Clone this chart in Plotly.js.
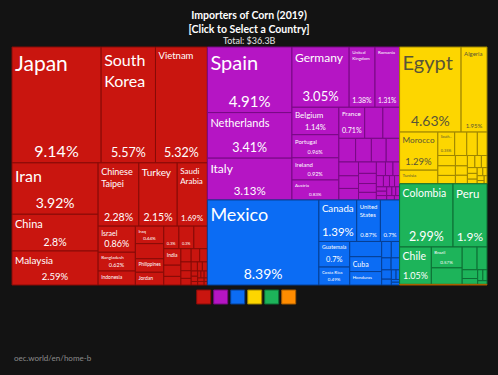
<!DOCTYPE html>
<html>
<head>
<meta charset="utf-8">
<script src="https://cdn.plot.ly/plotly-3.0.1.min.js"></script>
<style>
html,body{margin:0;padding:0;background:#131313;}
#chart{width:498px;height:375px;}
</style>
</head>
<body>
<div id="chart"></div>
<script>
// ---------- DATA (share of world corn imports 2019, %) ----------
const continents = ['Asia', 'Europe', 'North America', 'Africa', 'South America', 'Oceania'];

const asiaNames = ['Japan','South Korea','Vietnam','Iran','China','Malaysia','Chinese Taipei','Turkey','Saudi Arabia','Israel','Bangladesh','Indonesia','Iraq','Kuwait','Philippines','Jordan','Syria','Lebanon','United Arab Emirates','India','Qatar','Sri Lanka','Oman','Thailand','Pakistan','Georgia','Azerbaijan','Yemen','Armenia','Singapore','Nepal','Kazakhstan','Hong Kong','Cambodia','Bahrain','Kyrgyzstan','Uzbekistan','Tajikistan','Myanmar','Brunei','Maldives'];
const asiaValues = [9.14,5.57,5.32,3.92,2.80,2.59,2.28,2.15,1.69,0.86,0.62,0.46,0.44,0.38,0.34,0.32,0.302,0.298,0.27,0.25,0.17,0.13,0.12,0.10,0.09,0.08,0.07,0.06,0.05,0.04,0.04,0.03,0.03,0.02,0.02,0.02,0.02,0.02,0.02,0.01,0.01];

const europeNames = ['Spain','Netherlands','Italy','Germany','United Kingdom','Romania','Belgium','Portugal','Ireland','Austria','France','Denmark','Greece','Slovenia','Poland','Croatia','Czechia','Hungary','Switzerland','Cyprus','Sweden','Slovakia','Bosnia and Herzegovina','Norway','Albania','Lithuania','Serbia','Malta','Latvia','Bulgaria','Estonia','Luxembourg','North Macedonia','Finland','Belarus','Montenegro','Moldova','Iceland','Ukraine'];
const europeValues = [4.91,3.41,3.13,3.05,1.38,1.31,1.14,0.96,0.92,0.83,0.71,0.50,0.46,0.35,0.33,0.31,0.28,0.24,0.22,0.20,0.18,0.16,0.14,0.12,0.11,0.09,0.08,0.07,0.06,0.05,0.05,0.04,0.04,0.04,0.04,0.03,0.03,0.03,0.02];

const northAmericaNames = ['Mexico','Canada','United States','Dominican Republic','Guatemala','Costa Rica','El Salvador','Cuba','Honduras','Panama','Jamaica','Trinidad and Tobago','Nicaragua','Haiti','Belize','Barbados','Bahamas','Saint Lucia','Antigua and Barbuda'];
const northAmericaValues = [8.39,1.39,0.87,0.704,0.698,0.49,0.43,0.42,0.38,0.14,0.12,0.10,0.09,0.08,0.05,0.04,0.03,0.02,0.02];

const africaNames = ['Egypt','Algeria','Morocco','Tunisia','South Africa','Libya','Kenya','Zimbabwe','Mauritania','Senegal','Botswana','Namibia','Mozambique','Eswatini','Lesotho','Sudan','Djibouti','Ghana','Mauritius','Nigeria','Tanzania','Cape Verde','Uganda','Angola','Gambia'];
const africaValues = [4.63,1.95,1.29,0.46,0.35,0.25,0.22,0.20,0.16,0.15,0.13,0.11,0.10,0.09,0.08,0.07,0.06,0.05,0.05,0.04,0.04,0.03,0.03,0.02,0.02];

const southAmericaNames = ['Colombia','Peru','Chile','Brazil','Ecuador','Venezuela','Uruguay','Bolivia','Paraguay','Argentina','Guyana','Suriname'];
const southAmericaValues = [2.99,1.90,1.05,0.57,0.45,0.30,0.20,0.12,0.08,0.05,0.04,0.03];

const oceaniaNames = ['New Zealand','Australia','Fiji'];
const oceaniaValues = [0.03,0.01,0.01];

const titleLines = ['Importers of Corn (2019)', '[Click to Select a Country]'];
const totalText = 'Total: $36.3B';
const footerText = 'oec.world/en/home-b';

// ---------- STYLE ----------
const FONT = 'Lato, "Open Sans", sans-serif';
const continentColors = ['#c9150f', '#b515c4', '#0b6cf4', '#fdd600', '#1db45a', '#ff8c00'];
const continentLines  = ['#870c08', '#780a84', '#073f93', '#9c8400', '#0e6e35', '#a85c00'];
const continentText   = ['#ffffff', '#ffffff', '#ffffff', '#585437', '#ffffff', '#ffffff'];

const displayNames = {
  'South Korea': 'South<br>Korea', 'Chinese Taipei': 'Chinese<br>Taipei',
  'Saudi Arabia': 'Saudi<br>Arabia', 'United States': 'United<br>States',
  'United Kingdom': 'United<br>Kingdom', 'South Africa': 'South...'
};
// [name font size, percentage font size]; 0 = not shown
const labelSizes = {
  'Japan':[21,16], 'South Korea':[16,12.5], 'Vietnam':[9.5,12.5], 'Iran':[16,14],
  'China':[11,10.5], 'Malaysia':[10,9.5], 'Chinese Taipei':[9,10.5], 'Turkey':[10,10.5],
  'Saudi Arabia':[8,8], 'Israel':[7,9], 'Bangladesh':[4.5,5.5], 'Iraq':[4.5,4.5],
  'Syria':[0,4.5], 'Lebanon':[0,4.5], 'Indonesia':[5,0], 'Philippines':[5,0], 'India':[5,0], 'Jordan':[5,0],
  'Spain':[20,15], 'Netherlands':[11,12.5], 'Italy':[12,11.5], 'Germany':[12,13],
  'United Kingdom':[4.5,7], 'Romania':[4.5,7], 'Belgium':[8,7.5], 'France':[6.5,7.5],
  'Portugal':[6,5.5], 'Ireland':[6,5.5], 'Austria':[4.5,4.5],
  'Mexico':[18,14], 'Canada':[10.5,11.5], 'United States':[6,6], 'Dominican Republic':[0,6],
  'Guatemala':[5.5,7.5], 'Costa Rica':[4.5,4.5], 'Cuba':[7,0], 'Honduras':[4.5,0],
  'Egypt':[20,14], 'Algeria':[6,6], 'Morocco':[8.5,9.5], 'Tunisia':[4.5,0], 'South Africa':[4.5,4.5],
  'Colombia':[10.5,12.5], 'Peru':[11.5,12], 'Chile':[10.5,9], 'Brazil':[4.5,4.5]
};

// ---------- BUILD ----------
const groups = [
  [asiaNames, asiaValues], [europeNames, europeValues], [northAmericaNames, northAmericaValues],
  [africaNames, africaValues], [southAmericaNames, southAmericaValues], [oceaniaNames, oceaniaValues]
];
const fmt = v => parseFloat(v.toFixed(2)).toString() + '%';

const ids = [], labels = [], parents = [], values = [], colors = [], lines = [];
const nameTexts = [], pctTexts = [], nameSizes = [], pctSizes = [], textColors = [];

ids.push('World'); labels.push('World'); parents.push(''); values.push(0);
colors.push('#131313'); lines.push('#131313');
nameTexts.push(''); pctTexts.push(''); nameSizes.push(8); pctSizes.push(8); textColors.push('#fff');

continents.forEach((c, ci) => {
  ids.push(c); labels.push(c); parents.push('World'); values.push(0);
  colors.push(continentColors[ci]); lines.push('#151515');
  nameTexts.push(''); pctTexts.push(''); nameSizes.push(8); pctSizes.push(8); textColors.push(continentText[ci]);
  const [names, vals] = groups[ci];
  names.forEach((n, i) => {
    ids.push(n); labels.push(n); parents.push(c); values.push(vals[i]);
    colors.push(continentColors[ci]); lines.push(continentLines[ci]);
    const s = labelSizes[n] || [0, 0];
    nameTexts.push(s[0] ? (displayNames[n] || n) : '');
    pctTexts.push(s[1] ? fmt(vals[i]) : '');
    nameSizes.push(s[0] || 5); pctSizes.push(s[1] || 5);
    textColors.push(continentText[ci]);
  });
});

const W = 498, H = 375;
const domain = {x: [12 / W, 487 / W], y: [1 - 285 / H, 1 - 47 / H]};
const PHI = (1 + Math.sqrt(5)) / 2;

const base = {
  type: 'treemap', ids: ids, labels: labels, parents: parents, values: values,
  branchvalues: 'remainder', sort: true, domain: domain,
  tiling: {packing: 'squarify', squarifyratio: PHI, pad: 0},
  pathbar: {visible: false}, textinfo: 'text'
};

const cells = Object.assign({}, base, {
  marker: {colors: colors, line: {color: lines, width: 1}, pad: {t: 0, l: 0, r: 0, b: 0}, depthfade: false},
  leaf: {opacity: 1},
  text: nameTexts, textposition: 'top left',
  textfont: {family: FONT, size: nameSizes, color: textColors},
  hoverinfo: 'label+value'
});
const pcts = Object.assign({}, base, {
  marker: {colors: ids.map(() => 'rgba(0,0,0,0)'), line: {width: 0}, pad: {t: 0, l: 0, r: 0, b: 0}, depthfade: false},
  leaf: {opacity: 1},
  text: pctTexts, textposition: 'bottom center',
  textfont: {family: FONT, size: pctSizes, color: textColors},
  hoverinfo: 'skip'
});

// colour key squares under the treemap
const key = {
  type: 'scatter', mode: 'markers', x: continents.map((c, i) => i), y: continents.map(() => 0),
  text: continents, hoverinfo: 'text', showlegend: false,
  marker: {symbol: 'square', size: 14, color: continentColors, line: {color: continentLines, width: 1}}
};

const step = 17, first = 203.7;
const layout = {
  width: W, height: H, margin: {l: 0, r: 0, t: 0, b: 0},
  paper_bgcolor: '#131313', plot_bgcolor: 'rgba(0,0,0,0)', showlegend: false,
  title: {
    text: '<b>' + titleLines.join('</b><br><b>') + '</b>',
    x: 0.5, xanchor: 'center', y: 1 - 19 / H, yanchor: 'middle', yref: 'container',
    font: {family: FONT, size: 10.5, color: '#ffffff'}
  },
  xaxis: {domain: [0, 1], range: [-first / step, (W - first) / step], visible: false, fixedrange: true},
  yaxis: {domain: [0.158, 0.258], range: [-1, 1], visible: false, fixedrange: true},
  annotations: [
    {text: totalText, xref: 'paper', yref: 'paper', x: 0.5, y: 1 - 40 / H, xanchor: 'center', yanchor: 'middle',
     showarrow: false, font: {family: FONT, size: 9, color: '#e6e6e6'}},
    {text: footerText, xref: 'paper', yref: 'paper', x: 12 / W, y: 1 - 358 / H, xanchor: 'left', yanchor: 'middle',
     showarrow: false, font: {family: FONT, size: 8, color: '#8c8c8c'}}
  ]
};

Plotly.newPlot('chart', [cells, pcts, key], layout, {displayModeBar: false});
</script>
</body>
</html>
